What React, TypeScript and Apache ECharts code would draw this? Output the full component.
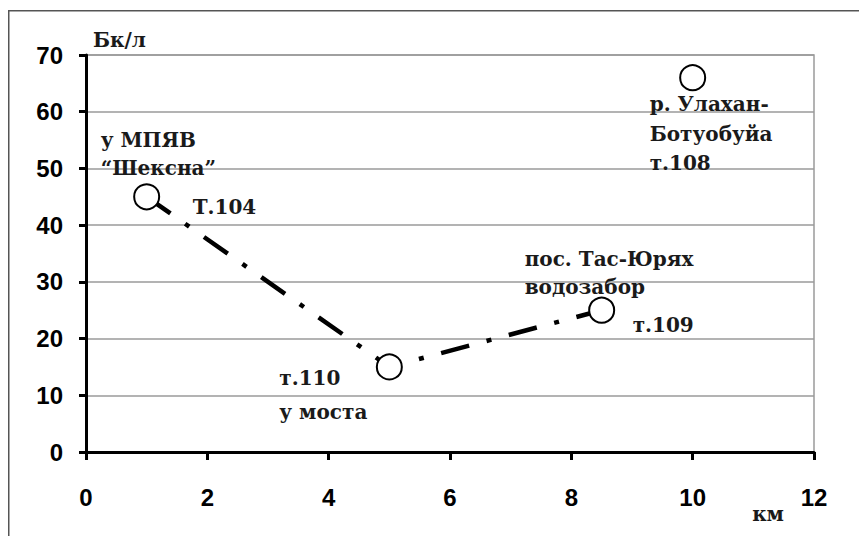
import React, { useEffect, useRef } from 'react';
import * as echarts from 'echarts';

// Data
const distancesKm = [1, 5, 8.5, 10];
const activityBqL = [45, 15, 25, 66];
const routeIndices = [0, 1, 2]; // points connected by the dash-dot line
const xTickValues = [0, 2, 4, 6, 8, 10, 12];
const yTickValues = [0, 10, 20, 30, 40, 50, 60, 70];
const yAxisTitle = 'Бк/л';
const xAxisTitle = 'км';
const pointLabels = [
  ['у МПЯВ\n“Шексна”', 'Т.104'],
  ['т.110\nу моста'],
  ['пос. Тас-Юрях\nводозабор', 'т.109'],
  ['р. Улахан-\nБотуобуйа\nт.108'],
];

// Layout of labels relative to their point (pixels)
const labelLayout = [
  [{ dx: -46, dy: -71, lh: 28 }, { dx: 46, dy: -4, lh: 28 }],
  [{ dx: -110, dy: -6, lh: 34 }],
  [{ dx: -77, dy: -65, lh: 28 }, { dx: 31, dy: 1, lh: 28 }],
  [{ dx: -43, dy: 12, lh: 29.5 }],
];

const SERIF = 'DejaVu Serif';
const SANS = 'Liberation Sans';

export default function App() {
  const ref = useRef<HTMLDivElement>(null);
  useEffect(() => {
    if (!ref.current) return;
    const chart = echarts.init(ref.current, undefined, { renderer: 'svg' });

    const markData: any[] = [];
    pointLabels.forEach((texts, i) => {
      texts.forEach((t, j) => {
        const l = labelLayout[i][j];
        markData.push({
          coord: [distancesKm[i], activityBqL[i]],
          label: {
            show: true,
            position: 'inside',
            align: 'left',
            verticalAlign: 'top',
            offset: [l.dx, l.dy],
            formatter: t,
            lineHeight: l.lh,
            color: '#1a1a1a',
            fontFamily: SERIF,
            fontWeight: 'bold',
            fontSize: 20,
          },
        });
      });
    });

    const option: any = {
      animation: false,
      backgroundColor: '#ffffff',
      grid: {
        left: 78,
        top: 47,
        right: 53,
        bottom: 84,
        show: true,
        borderColor: '#9a9a9a',
        borderWidth: 1.5,
        containLabel: false,
        outerBoundsMode: 'none',
      },
      graphic: [
        { type: 'line', silent: true, shape: { x1: 0.75, y1: 2, x2: 0.75, y2: 600 }, style: { stroke: '#555', lineWidth: 1.5 } },
        { type: 'line', silent: true, shape: { x1: 0, y1: 2.75, x2: 900, y2: 2.75 }, style: { stroke: '#555', lineWidth: 1.5 } },
      ],
      xAxis: {
        type: 'value',
        min: xTickValues[0],
        max: xTickValues[xTickValues.length - 1],
        interval: xTickValues[1] - xTickValues[0],
        name: xAxisTitle,
        nameLocation: 'end',
        nameGap: -30,
        nameTextStyle: {
          align: 'right',
          verticalAlign: 'top',
          padding: [52, 0, 0, 0],
          color: '#1a1a1a',
          fontFamily: SERIF,
          fontWeight: 'bold',
          fontSize: 20,
        },
        axisLine: { show: true, lineStyle: { color: '#000', width: 3 } },
        axisTick: { show: true, length: 8, lineStyle: { color: '#000', width: 3 } },
        axisLabel: { show: true, margin: 33, color: '#000', fontFamily: SANS, fontWeight: 'bold', fontSize: 24 },
        splitLine: { show: false },
      },
      yAxis: {
        type: 'value',
        min: yTickValues[0],
        max: yTickValues[yTickValues.length - 1],
        interval: yTickValues[1] - yTickValues[0],
        name: yAxisTitle,
        nameLocation: 'end',
        nameGap: 15,
        nameTextStyle: {
          align: 'left',
          verticalAlign: 'middle',
          padding: [0, 0, 0, 7],
          color: '#1a1a1a',
          fontFamily: SERIF,
          fontWeight: 'bold',
          fontSize: 20,
        },
        axisLine: { show: true, lineStyle: { color: '#000', width: 3 } },
        axisTick: { show: true, length: 7, lineStyle: { color: '#000', width: 3 } },
        axisLabel: { show: true, margin: 23, color: '#000', fontFamily: SANS, fontWeight: 'bold', fontSize: 24 },
        splitLine: { show: true, lineStyle: { color: '#9a9a9a', width: 1.5 } },
      },
      series: [
        {
          type: 'line',
          data: routeIndices.map((i) => [distancesKm[i], activityBqL[i]]),
          showSymbol: false,
          symbol: 'none',
          lineStyle: { color: '#000', width: 4.5, type: [29, 18, 5, 18], cap: 'butt' },
          z: 2,
        },
        {
          type: 'scatter',
          data: distancesKm.map((x, i) => [x, activityBqL[i]]),
          symbol: 'circle',
          symbolSize: 25,
          itemStyle: { color: '#fff', borderColor: '#000', borderWidth: 2, opacity: 1 },
          z: 3,
          markPoint: {
            symbol: 'circle',
            symbolSize: 1,
            itemStyle: { color: 'rgba(0,0,0,0)' },
            data: markData,
          },
        },
      ],
    };
    chart.setOption(option);
    return () => chart.dispose();
  }, []);
  return <div ref={ref} style={{ width: 859, height: 528 }} />;
}
